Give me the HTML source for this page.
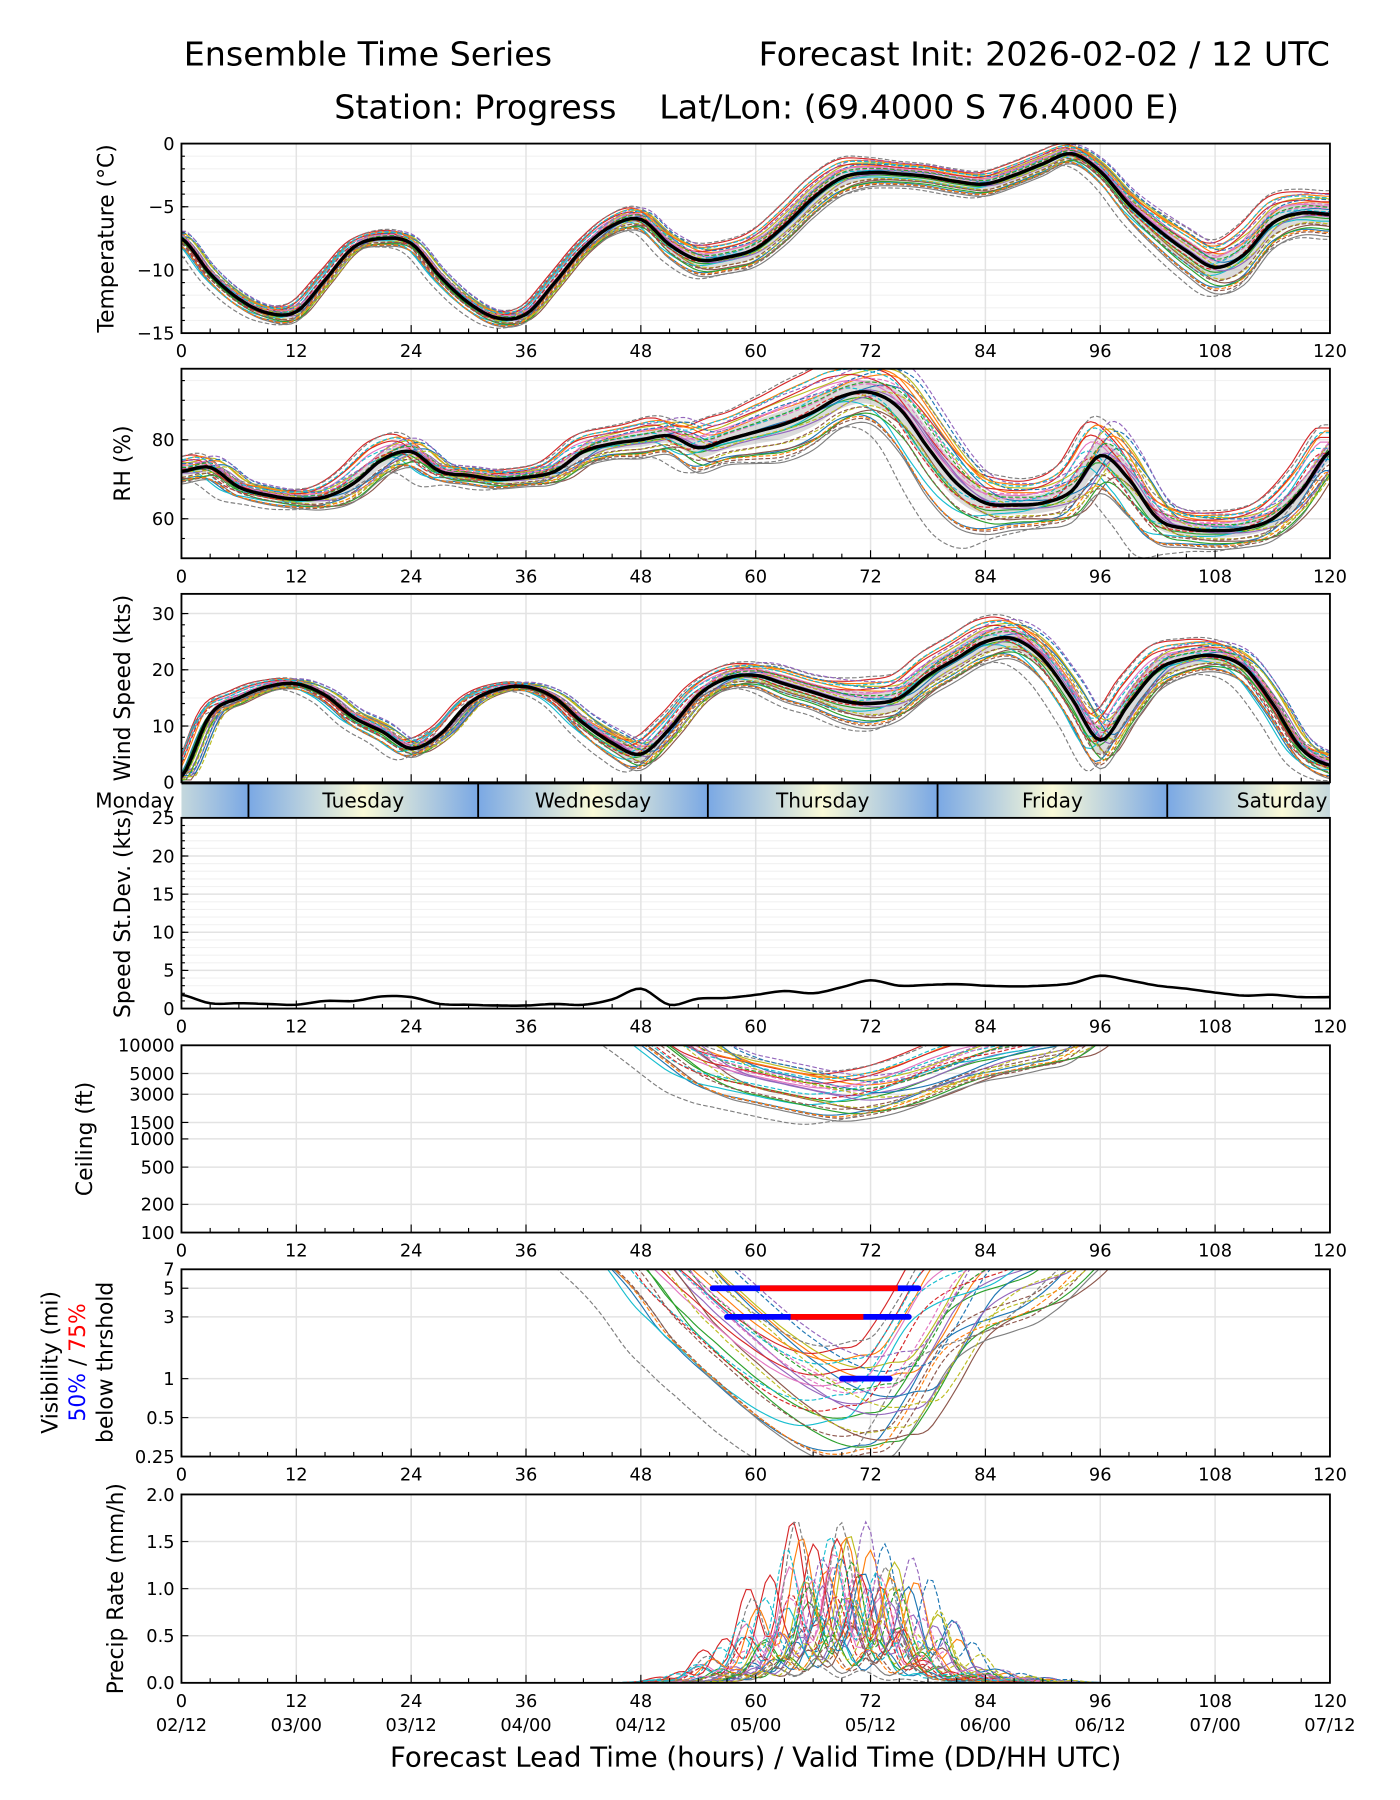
<!DOCTYPE html>
<html><head><meta charset="utf-8"><title>Ensemble Time Series</title>
<style>html,body{margin:0;padding:0;background:#fff}svg{display:block}text{font-family:"DejaVu Sans","Liberation Sans",sans-serif}</style>
</head><body>
<svg id="chart" xmlns="http://www.w3.org/2000/svg" width="1400" height="1800" viewBox="0 0 1219 1567" preserveAspectRatio="none">
<text x="160" y="57" font-size="29">Ensemble Time Series</text>
<text x="1158" y="57" font-size="29" text-anchor="end">Forecast Init: 2026-02-02 / 12 UTC</text>
<text x="291" y="103" font-size="29">Station: Progress</text>
<text x="574" y="103" font-size="29">Lat/Lon: (69.4000 S 76.4000 E)</text>
<text x="658" y="1538" font-size="24" text-anchor="middle">Forecast Lead Time (hours) / Valid Time (DD/HH UTC)</text>
<g id="plots"></g>
</svg>
<script>
// ---- data (3-hourly, lead 0..120) ----
const hours = [0,3,6,9,12,15,18,21,24,27,30,33,36,39,42,45,48,51,54,57,60,63,66,69,72,75,78,81,84,87,90,93,96,99,102,105,108,111,114,117,120];
const tempMean = [-7.5,-10.3,-12.3,-13.4,-13.3,-10.8,-8.2,-7.5,-7.9,-10.5,-12.6,-13.8,-13.5,-11,-8.3,-6.5,-6,-8,-9.2,-9,-8.3,-6.5,-4.3,-2.7,-2.3,-2.4,-2.6,-3,-3.2,-2.5,-1.6,-0.8,-2.2,-4.8,-6.8,-8.5,-9.8,-8.8,-6.3,-5.5,-5.6];
const tempSpread = [0.4,0.4,0.4,0.4,0.5,0.4,0.3,0.4,0.4,0.4,0.4,0.4,0.4,0.4,0.4,0.5,0.6,0.7,0.8,0.8,0.9,1.0,1.0,0.9,0.7,0.6,0.6,0.6,0.6,0.6,0.6,0.5,0.6,0.8,1.0,1.2,1.3,1.5,1.3,1.1,1.1];
const rhMean = [72,73,68,66,65,65.5,69,75,77,72,71,70,70.5,72,77,79,80,81,78,80,82,84,87,91,92,88,78,69,64,63.5,64,67,76,70,60,57.5,57,57.5,60,67,77];
const rhSpread = [2,2,1.5,1.5,1.5,2,3,3,2.5,1.5,1.5,1.5,1.5,2,2.5,2.5,3,3,4,4,5,6,6,5,5,7,8,7,5,4,4,5,6,6,4,3,3,3,3.5,4,4];
const windMean = [1,12,15,17,17.5,15.5,11.5,9,6,8.5,14,16.5,17,15,10.5,7,5,9.5,15.5,18.5,19,17.5,16,14.5,14,15,19,22,25,25.5,22,15,7.5,14,20,22,22.5,20.5,14,6,3];
const windSpread = [0.6,0.8,0.8,0.6,0.6,0.7,1.0,1.2,1.0,0.7,0.6,0.5,0.5,0.7,1.2,1.6,1.8,1.5,1.2,1.3,1.5,2,2,2.5,2.8,2.5,2.5,2.5,2.5,2.3,2.5,2.8,3.2,3,2.5,2,1.8,1.8,1.8,1.5,1.5];
const speedStd = [1.8,0.7,0.7,0.6,0.5,1.0,1.0,1.6,1.5,0.6,0.5,0.4,0.4,0.6,0.5,1.2,2.6,0.5,1.3,1.4,1.8,2.3,2.0,2.8,3.7,3.0,3.1,3.2,3.0,2.9,3.0,3.3,4.3,3.7,3.0,2.6,2.1,1.7,1.8,1.5,1.5];
const ceilMean = [30000,30000,30000,30000,30000,30000,30000,30000,30000,30000,30000,30000,30000,30000,30000,30000,20000,12000,7000,5000,4200,3600,3100,2800,3000,3500,4500,6000,7500,8500,10000,12000,20000,30000,30000,30000,30000,30000,30000,30000,30000];
const visMean = [30,30,30,30,30,30,30,30,30,30,30,30,30,30,30,20,12,6,3.5,2.2,1.4,0.95,0.7,0.6,0.65,0.8,1.8,4,5.5,6.5,8,12,20,30,30,30,30,30,30,30,30];
const precipMean = [0,0,0,0,0,0,0,0,0,0,0,0,0,0,0,0,0,0.01,0.04,0.12,0.25,0.45,0.65,0.7,0.6,0.5,0.3,0.1,0.05,0.03,0.01,0,0,0,0,0,0,0,0,0,0];
const memberW = [-1.2,0.8,-0.3,1.5,0.1,-0.9,0.6,-1.6,1.1,-0.5,0.3,1.3,-1.1,0.9,-0.2,-1.4,0.4,1.7,-0.7,0.2,1.0,-1.3,0.5,-0.1,1.4,-0.8,0.7,-1.8,0.0,1.2];
const memberShift = [1.0,-1.5,0.5,2.0,-0.5,-2.0,1.5,0.0,-1.0,2.5,-2.5,0.8,-0.8,1.8,-1.8,0.3,-0.3,1.2,-1.2,2.2,-2.2,0.6,-0.6,1.6,-1.6,0.2,-0.2,2.8,-2.8,1.4];
const vis5 = [55.5,77]; const vis3 = [57,76]; const vis1 = [69,74];
const xTickLabels = [0,12,24,36,48,60,72,84,96,108,120];
const dateLabels = ["02/12","03/00","03/12","04/00","04/12","05/00","05/12","06/00","06/12","07/00","07/12"];
const dayNames = ["Monday","Tuesday","Wednesday","Thursday","Friday","Saturday"];
const dayBounds = [7,31,55,79,103];

const colors=["#1f77b4","#ff7f0e","#2ca02c","#d62728","#9467bd","#8c564b","#e377c2","#7f7f7f","#bcbd22","#17becf"];
const NS="http://www.w3.org/2000/svg";
const X0=158,X1=1158;
const TFS=15.5, LFS=19;
const xs=h=>X0+(h/120)*(X1-X0);
const root=document.getElementById('plots');
function mk(tag,attrs,parent){const e=document.createElementNS(NS,tag);for(const k in attrs)e.setAttribute(k,attrs[k]);(parent||root).appendChild(e);return e;}
function interp(arr,t){if(t<=0)return arr[0];if(t>=120)return arr[arr.length-1];const i=Math.floor(t/3),f=(t-i*3)/3;const p0=arr[Math.max(i-1,0)],p1=arr[i],p2=arr[Math.min(i+1,arr.length-1)],p3=arr[Math.min(i+2,arr.length-1)];return p1+0.5*f*(p2-p0+f*(2*p0-5*p1+4*p2-p3+f*(3*(p1-p2)+p3-p0)));}
function lin(p){return v=>p.bottom-(v-p.ymin)/(p.ymax-p.ymin)*(p.bottom-p.top);}
function logs(p){return v=>p.bottom-(Math.log(v)-Math.log(p.ymin))/(Math.log(p.ymax)-Math.log(p.ymin))*(p.bottom-p.top);}
let clipId=0;
function panel(p){
  const g=mk('g',{});
  const ys=p.log?logs(p):lin(p);
  (p.minor||[]).forEach(v=>{const l=mk('line',{x1:X0,x2:X1,y1:ys(v),y2:ys(v),stroke:'#f2f2f2','stroke-width':1},g);});
  for(let h=12;h<120;h+=12){const l=mk('line',{x1:xs(h),x2:xs(h),y1:p.top,y2:p.bottom,stroke:'#e3e3e3','stroke-width':1.3},g);}
  p.ticks.forEach((v,i)=>{const y=ys(v);const l=mk('line',{x1:X0,x2:X1,y1:y,y2:y,stroke:'#e3e3e3','stroke-width':1.3},g);
    mk('line',{x1:X0,x2:X0+6,y1:y,y2:y,stroke:'#000','stroke-width':1},g);
    const t=mk('text',{x:X0-6,y:y+5.5,'font-size':TFS,'text-anchor':'end'},g);t.textContent=p.tickLabels?p.tickLabels[i]:String(v).replace('-','\u2212');});
  (p.minorTicks||[]).forEach(v=>mk('line',{x1:X0,x2:X0+3,y1:ys(v),y2:ys(v),stroke:'#000','stroke-width':1},g));
  const cid='c'+(clipId++);const cp=mk('clipPath',{id:cid},g);mk('rect',{x:X0,y:p.top,width:X1-X0,height:p.bottom-p.top},cp);
  const inner=mk('g',{'clip-path':'url(#'+cid+')'},g);
  p.draw(inner,ys);
  for(let h=0;h<=120;h+=3){const maj=h%12===0;mk('line',{x1:xs(h),x2:xs(h),y1:p.bottom,y2:p.bottom-(maj?7:4),stroke:'#000','stroke-width':1},g);}
  const fr=mk('rect',{x:X0,y:p.top,width:X1-X0,height:p.bottom-p.top,fill:'none',stroke:'#000','stroke-width':1.6},g);
  if(p.xlabels){xTickLabels.forEach(h=>{const t=mk('text',{x:xs(h),y:p.bottom+21,'font-size':TFS,'text-anchor':'middle'},g);t.textContent=h;});}
  if(p.label){const t=mk('text',{x:0,y:0,'font-size':LFS,'text-anchor':'middle',transform:`translate(${p.labelX||100},${(p.top+p.bottom)/2}) rotate(-90)`},g);t.textContent=p.label;}
  return ys;
}
function pathFrom(fn,ys,t0,t1){let d='';for(let t=t0;t<=t1+1e-6;t+=0.5){const v=fn(t);d+=(d?'L':'M')+xs(t).toFixed(1)+','+ys(v).toFixed(1);}return d;}
function members(g,ys,fn){memberW.forEach((w,i)=>{const e=mk('path',{d:pathFrom(t=>fn(t,w,memberShift[i],i),ys,0,120),fill:'none',stroke:colors[i%10],'stroke-width':1,'stroke-dasharray':i>=15?'4,2':'none'},g);});}
function meanLine(g,ys,arr,label){const e=mk('path',{d:pathFrom(t=>interp(arr,t),ys,0,120),fill:'none',stroke:'#000','stroke-width':3},g);}
function band(g,ys,m,s,k){let d='';for(let t=0;t<=120;t+=0.5)d+=(d?'L':'M')+xs(t)+','+ys(interp(m,t)+k*interp(s,t));for(let t=120;t>=0;t-=0.5)d+='L'+xs(t)+','+ys(interp(m,t)-k*interp(s,t));const e=mk('path',{d:d+'Z',fill:'#999','fill-opacity':0.35},g);}
const rng=(a,b,s)=>{const r=[];for(let v=a;v<=b+1e-9;v+=s)r.push(+v.toFixed(3));return r;};

panel({name:'temperature-panel',top:125,bottom:290,ymin:-15,ymax:0,ticks:[-15,-10,-5,0],minor:rng(-15,0,1),minorTicks:rng(-15,0,1),xlabels:true,label:'Temperature (°C)',labelX:99,
 draw:(g,ys)=>{band(g,ys,tempMean,tempSpread,0.8);members(g,ys,(t,w,s)=>interp(tempMean,t+s*0.3)+w*interp(tempSpread,t));meanLine(g,ys,tempMean,'temperature-mean-line');}});
panel({name:'rh-panel',top:321,bottom:486,ymin:50,ymax:98,ticks:[60,80],minor:rng(50,95,5),minorTicks:rng(50,95,5),xlabels:true,label:'RH (%)',labelX:113,
 draw:(g,ys)=>{band(g,ys,rhMean,rhSpread,0.6);members(g,ys,(t,w,s)=>interp(rhMean,t+s*0.7)+w*interp(rhSpread,t));meanLine(g,ys,rhMean,'rh-mean-line');}});
panel({name:'wind-panel',top:517,bottom:681,ymin:0,ymax:33.5,ticks:[0,10,20,30],minor:rng(0,30,5),minorTicks:rng(0,30,2),xlabels:false,label:'Wind Speed (kts)',labelX:113,
 draw:(g,ys)=>{band(g,ys,windMean,windSpread,0.8);members(g,ys,(t,w,s)=>Math.max(0,interp(windMean,t+s*0.5)+w*interp(windSpread,t)));meanLine(g,ys,windMean,'wind-mean-line');}});
(function(){const g=mk('g',{});
 const defs=mk('defs',{},g);const gr=mk('linearGradient',{id:'dayg',x1:0,x2:1,y1:0,y2:0},defs);
 [['0','#7aa8e4'],['0.5','#fafad8'],['1','#7aa8e4']].forEach(s=>mk('stop',{offset:s[0],'stop-color':s[1]},gr));
 const edges=[-17].concat(dayBounds).concat([127]);
 const cp=mk('clipPath',{id:'dayclip'},g);mk('rect',{x:X0,y:682,width:X1-X0,height:30},cp);
 const gi=mk('g',{'clip-path':'url(#dayclip)'},g);
 for(let i=0;i<edges.length-1;i++){const r=mk('rect',{x:xs(edges[i]),y:682,width:xs(edges[i+1])-xs(edges[i]),height:30,fill:'url(#dayg)'},gi);}
 dayBounds.forEach(h=>mk('line',{x1:xs(h),x2:xs(h),y1:682,y2:712,stroke:'#000','stroke-width':1.6},g));
 dayNames.forEach((n,i)=>{let x,anchor='middle';if(i===0){x=152;anchor='end';}else x=xs(Math.min(dayBounds[i-1]+12,117));
  const t=mk('text',{x:x,y:703,'font-size':17.5,'text-anchor':anchor},g);t.textContent=n;});
 mk('line',{x1:X0,x2:X1,y1:682,y2:682,stroke:'#000','stroke-width':1.6},g);
})();
panel({name:'speed-stddev-panel',top:712,bottom:878,ymin:0,ymax:25,ticks:[0,5,10,15,20,25],minor:rng(0,25,1),minorTicks:rng(0,25,1),xlabels:true,label:'Speed St.Dev. (kts)',labelX:113,
 draw:(g,ys)=>{meanLine(g,ys,speedStd,'speed-stddev-line');g.lastChild.setAttribute('stroke-width',2.2);}});
panel({name:'ceiling-panel',top:910,bottom:1073,ymin:100,ymax:10000,log:true,ticks:[100,200,500,1000,1500,3000,5000,10000],xlabels:true,label:'Ceiling (ft)',labelX:80,
 draw:(g,ys)=>{members(g,ys,(t,w,s)=>interp(ceilMean,t+s*1.5)*Math.pow(1.45,w));}});
panel({name:'visibility-panel',top:1105,bottom:1268,ymin:0.25,ymax:7,log:true,ticks:[0.25,0.5,1,3,5,7],xlabels:true,
 draw:(g,ys)=>{members(g,ys,(t,w,s)=>interp(visMean,t+s*1.8)*Math.pow(1.9,w));
  [[vis5,5],[vis3,3],[vis1,1]].forEach(([r,v],k)=>{const y=ys(v);
   const e=mk('line',{x1:xs(r[0]),x2:xs(r[1]),y1:y,y2:y,stroke:'#0000ff','stroke-width':5,'stroke-linecap':'round'},g);
   if(k<2){const a=r[0]+(r[1]-r[0])*(k===0?0.23:0.35),b=r[0]+(r[1]-r[0])*(k===0?0.9:0.75);const e2=mk('line',{x1:xs(a),x2:xs(b),y1:y,y2:y,stroke:'#ff0000','stroke-width':5},g);}
  });}});
(function(){const g=mk('g',{transform:'translate(0,1186)'});
 const a=mk('text',{x:0,y:0,'font-size':LFS,'text-anchor':'middle',transform:'translate(50,0) rotate(-90)'},g);a.textContent='Visibility (mi)';
 const b=mk('text',{x:0,y:0,'font-size':LFS,'text-anchor':'middle',transform:'translate(74,0) rotate(-90)'},g);
 const s1=mk('tspan',{fill:'#0000ff'},b);s1.textContent='50%';const s2=mk('tspan',{},b);s2.textContent=' / ';const s3=mk('tspan',{fill:'#ff0000'},b);s3.textContent='75%';
 const c=mk('text',{x:0,y:0,'font-size':LFS,'text-anchor':'middle',transform:'translate(98,0) rotate(-90)'},g);c.textContent='below thrshold';})();
panel({name:'precip-panel',top:1301,bottom:1465,ymin:0,ymax:2,ticks:[0,0.5,1,1.5,2],tickLabels:['0.0','0.5','1.0','1.5','2.0'],xlabels:true,label:'Precip Rate (mm/h)',labelX:107,
 draw:(g,ys)=>{members(g,ys,(t,w,s,i)=>{const base=interp(precipMean,t+s*1.6)*(1+0.45*w);const wig=1+0.5*Math.sin((t+i*1.7)*1.3);return Math.max(0,base*wig);});}});
dateLabels.forEach((d,i)=>{const t=mk('text',{x:xs(xTickLabels[i]),y:1507,'font-size':TFS,'text-anchor':'middle'});t.textContent=d;});
</script>
</body></html>
